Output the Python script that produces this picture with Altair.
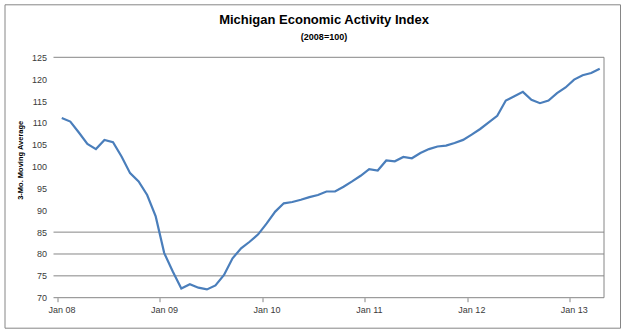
import altair as alt
import pandas as pd

# ---- data ----
values = [111.1, 110.3, 107.8, 105.2, 104.0, 106.1, 105.6, 102.3, 98.5, 96.6, 93.5, 88.6,
          80.2, 76.0, 72.1, 73.1, 72.3, 71.9, 72.8, 75.2, 79.0, 81.3, 82.8, 84.5,
          87.0, 89.7, 91.6, 91.9, 92.4, 93.0, 93.5, 94.3, 94.3, 95.4, 96.6, 97.9,
          99.4, 99.1, 101.4, 101.2, 102.2, 101.9, 103.1, 104.0, 104.6, 104.8, 105.4, 106.1,
          107.3, 108.6, 110.1, 111.6, 115.1, 116.1, 117.1, 115.3, 114.5, 115.1, 116.8, 118.1,
          119.9, 120.9, 121.4, 122.4]
year_labels = ["Jan 08", "Jan 09", "Jan 10", "Jan 11", "Jan 12", "Jan 13"]
year_ticks = [0, 12, 24, 36, 48, 60]
y_ticks = [70, 75, 80, 85, 90, 95, 100, 105, 110, 115, 120, 125]
grid_values = [70, 75, 80, 85, 125]
title_text = "Michigan Economic Activity Index"
subtitle_text = "(2008=100)"
y_title = "3-Mo. Moving Average"

W, H = 546.5, 240.4
FONT = "Liberation Sans"
GRID = "#868686"

df = pd.DataFrame({"m": [i + 0.5 for i in range(len(values))], "v": values})
grid_df = pd.DataFrame({"g": grid_values})

label_expr = "[" + ",".join(f"'{s}'" for s in year_labels) + "][round(datum.value/12)]"

xscale = alt.Scale(domain=[0, len(values)], nice=False, zero=False)
yscale = alt.Scale(domain=[70, 125], nice=False, zero=False)

yaxis = alt.Axis(values=y_ticks, title=None, grid=False, domain=False, ticks=False,
                 labelPadding=11, labelFont=FONT, labelFontSize=9, labelColor="#3a3a3a")
xaxis = alt.Axis(values=year_ticks, labelExpr=label_expr, title=None, grid=False,
                 domain=False, ticks=True, tickSize=4, tickColor=GRID,
                 labelOffset=4, labelPadding=4, labelFlush=False, labelFont=FONT,
                 labelFontSize=9, labelColor="#3a3a3a")

grid = alt.Chart(grid_df).mark_rule(color=GRID, strokeWidth=1).encode(
    y=alt.Y("g:Q", scale=yscale, axis=yaxis),
    x=alt.value(-4), x2=alt.value(W),
)
right_border = alt.Chart(grid_df.head(1)).mark_rule(color=GRID, strokeWidth=1).encode(
    x=alt.value(W), y=alt.value(0), y2=alt.value(H)
)
outer = alt.Chart(grid_df.head(1)).mark_rect(filled=False, stroke=GRID, strokeWidth=1).encode(
    x=alt.value(-52.5), x2=alt.value(W + 16.5), y=alt.value(-52.5), y2=alt.value(H + 30.5)
)

line = alt.Chart(df).mark_line(color="#4A7EBB", strokeWidth=2.2).encode(
    x=alt.X("m:Q", scale=xscale, axis=xaxis),
    y=alt.Y("v:Q", scale=yscale, axis=yaxis),
)

TX = 266.5
title = alt.Chart(pd.DataFrame({"t": [title_text]})).mark_text(
    font=FONT, fontSize=13, fontWeight="bold", color="#000000", align="center", baseline="middle"
).encode(text="t:N", x=alt.value(TX), y=alt.value(-37))

subtitle = alt.Chart(pd.DataFrame({"t": [subtitle_text]})).mark_text(
    font=FONT, fontSize=9, fontWeight="bold", color="#000000", align="center", baseline="middle"
).encode(text="t:N", x=alt.value(TX), y=alt.value(-20))

ytitle = alt.Chart(pd.DataFrame({"t": [y_title]})).mark_text(
    font=FONT, fontSize=7.5, fontWeight="bold", color="#000000", align="center",
    baseline="middle", angle=270
).encode(text="t:N", x=alt.value(-36.5), y=alt.value(103))

chart = alt.layer(outer, grid, right_border, line, title, subtitle, ytitle).properties(
    width=W, height=H,
    autosize=alt.AutoSizeParams(type="none"),
    padding={"left": 57.5, "top": 57.3, "right": 22, "bottom": 35.3},
    background="white",
).configure_view(stroke=None)

chart.save("out.html", embed_options={"renderer": "svg", "actions": False})
